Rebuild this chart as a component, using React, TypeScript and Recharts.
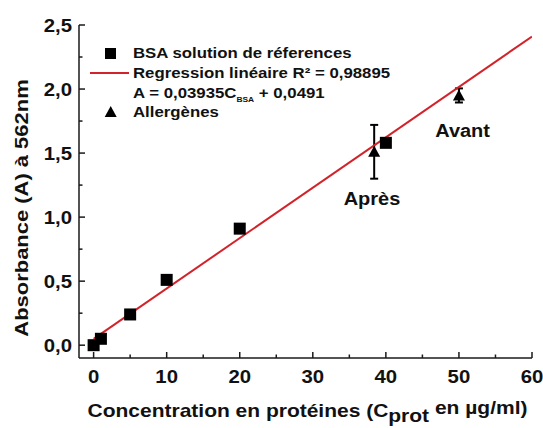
import React from "react";
import {
  ComposedChart,
  ErrorBar,
  Legend,
  ReferenceDot,
  Scatter,
  XAxis,
  YAxis,
} from "recharts";

// BSA reference solutions
const bsaConc = [0, 1, 5, 10, 20, 40];
const bsaAbs = [0.0, 0.05, 0.24, 0.51, 0.91, 1.58];

// allergen samples (with std. deviation)
const allergenConc = [38.4, 50];
const allergenAbs = [1.51, 1.95];
const allergenErr = [0.21, 0.055];
const allergenNames = ["Après", "Avant"];
const allergenTagX = [38.1, 50.5];
const allergenTagY = [1.15, 1.68];

// linear regression A = 0,03935 C + 0,0491
const regConc = [0, 60];
const regAbs = [0.0491, 2.4101];

const xTicks = [0, 5, 10, 15, 20, 25, 30, 35, 40, 45, 50, 55, 60];
const yTicks = [0, 0.25, 0.5, 0.75, 1, 1.25, 1.5, 1.75, 2, 2.25, 2.5];

const FONT = "'Liberation Sans', Arial, sans-serif";
const RED = "#d2232a";
const AXIS = "#1a1a1a";

const bsaData = bsaConc.map((x, i) => ({ x, y: bsaAbs[i] }));
const allergenData = allergenConc.map((x, i) => ({ x, y: allergenAbs[i], err: allergenErr[i] }));
const regData = regConc.map((x, i) => ({ x, y: regAbs[i] }));

const isMajorX = (v: number) => v % 10 === 0;
const isMajorY = (v: number) => Math.abs(v * 2 - Math.round(v * 2)) < 1e-6;

// the original font is a wide grotesque: stretch Liberation Sans along the text direction
const Wide = ({ x, y, sx, size, anchor = "start", rotate = 0, children }: any) => (
  <g transform={`translate(${x} ${y}) rotate(${rotate}) scale(${sx} 1)`}>
    <text x={0} y={0} textAnchor={anchor} fontFamily={FONT} fontWeight="bold" fontSize={size} fill="#111">
      {children}
    </text>
  </g>
);

const BottomTick = (p: any) => {
  const v = p.payload.value;
  const major = isMajorX(v);
  return (
    <g>
      <line x1={p.x} x2={p.x} y1={p.y} y2={p.y - (major ? 6 : 3.5)} stroke={AXIS} strokeWidth={1.5} />
      {major && (
        <Wide x={p.x} y={p.y + 25} sx={1.1} size={18.5} anchor="middle">
          {v}
        </Wide>
      )}
    </g>
  );
};

const TopTick = (p: any) => {
  const major = isMajorX(p.payload.value);
  return <line x1={p.x} x2={p.x} y1={p.y} y2={p.y + (major ? 6 : 3.5)} stroke={AXIS} strokeWidth={1.5} />;
};

const LeftTick = (p: any) => {
  const v = p.payload.value;
  const major = isMajorY(v);
  return (
    <g>
      <line x1={p.x} x2={p.x + (major ? 6 : 3.5)} y1={p.y} y2={p.y} stroke={AXIS} strokeWidth={1.5} />
      {major && (
        <Wide x={p.x - 7} y={p.y + 6.7} sx={1.1} size={18.5} anchor="end">
          {v.toFixed(1).replace(".", ",")}
        </Wide>
      )}
    </g>
  );
};

const RightTick = (p: any) => {
  const major = isMajorY(p.payload.value);
  return <line x1={p.x} x2={p.x - (major ? 6 : 3.5)} y1={p.y} y2={p.y} stroke={AXIS} strokeWidth={1.5} />;
};

const Square = (p: any) => <rect x={p.cx - 6} y={p.cy - 6} width={12} height={12} fill="#000" />;
const Triangle = (p: any) => (
  <polygon points={`${p.cx},${p.cy - 6} ${p.cx - 6},${p.cy + 5} ${p.cx + 6},${p.cy + 5}`} fill="#000" />
);

const LegendBox = () => (
  <svg width={320} height={90} style={{ overflow: "visible" }}>
    <rect x={25} y={10} width={11} height={11} fill="#000" />
    <Wide x={53} y={20} sx={1.2} size={14}>BSA solution de réferences</Wide>
    <line x1={10} x2={49} y1={35} y2={35} stroke={RED} strokeWidth={2} />
    <Wide x={53} y={40} sx={1.2} size={14}>Regression linéaire R² = 0,98895</Wide>
    <Wide x={53} y={60} sx={1.2} size={14}>
      A = 0,03935C
      <tspan fontSize={7} dy={4}>BSA</tspan>
      <tspan dy={-4}> + 0,0491</tspan>
    </Wide>
    <polygon points="30.7,68 24.7,79 36.7,79" fill="#000" />
    <Wide x={53} y={79} sx={1.2} size={14}>Allergènes</Wide>
  </svg>
);

const XLabel = (p: any) => {
  const vb = p.viewBox;
  return (
    <Wide x={vb.x + vb.width / 2 + 2} y={vb.y + 59} sx={1.2} size={17.5} anchor="middle">
      Concentration en protéines (C
      <tspan dy={5}>prot</tspan>
      <tspan dy={-8}> en µg/ml)</tspan>
    </Wide>
  );
};

const YLabel = () => (
  <Wide x={28} y={208} rotate={-90} sx={1.22} size={18} anchor="middle">
    Absorbance (A) à 562nm
  </Wide>
);

const Tag = (text: string) => (p: any) => {
  const vb = p.viewBox;
  return (
    <Wide x={vb.x} y={vb.y + 7} sx={1.08} size={18.5} anchor="middle">
      {text}
    </Wide>
  );
};

export default function App() {
  return (
    <div style={{ position: "absolute", left: 0, top: 0, width: 543, height: 428, background: "#fff" }}>
      <ComposedChart width={543} height={428} margin={{ top: 25, right: 11, bottom: 0, left: 0 }}>
        <XAxis
          xAxisId="b"
          dataKey="x"
          type="number"
          domain={[-2, 60]}
          ticks={xTicks}
          interval={0}
          allowDataOverflow
          tickSize={0}
          tickMargin={0}
          tick={<BottomTick />}
          height={70}
          stroke={AXIS}
          strokeWidth={1.5}
          label={{ content: XLabel }}
        />
        <XAxis
          xAxisId="t"
          orientation="top"
          dataKey="x"
          type="number"
          domain={[-2, 60]}
          ticks={xTicks}
          interval={0}
          allowDataOverflow
          tickSize={0}
          tickMargin={0}
          tick={<TopTick />}
          height={0}
          stroke={AXIS}
          strokeWidth={1.5}
        />
        <YAxis
          yAxisId="l"
          dataKey="y"
          type="number"
          domain={[-0.1, 2.5]}
          ticks={yTicks}
          interval={0}
          allowDataOverflow
          tickSize={0}
          tickMargin={0}
          tick={<LeftTick />}
          width={79}
          stroke={AXIS}
          strokeWidth={1.5}
          label={{ content: YLabel }}
        />
        <YAxis
          yAxisId="r"
          orientation="right"
          dataKey="y"
          type="number"
          domain={[-0.1, 2.5]}
          ticks={yTicks}
          interval={0}
          allowDataOverflow
          tickSize={0}
          tickMargin={0}
          tick={<RightTick />}
          width={0}
          stroke={AXIS}
          strokeWidth={1.5}
        />
        <Legend
          layout="horizontal"
          verticalAlign="middle"
          align="center"
          wrapperStyle={{ top: 38, left: 80, width: 320, height: 90 }}
          content={<LegendBox />}
        />
        <Scatter
          xAxisId="b"
          yAxisId="l"
          name="Regression linéaire"
          data={regData}
          line={{ stroke: RED, strokeWidth: 2 }}
          shape={() => <g />}
          isAnimationActive={false}
        />
        <Scatter
          xAxisId="b"
          yAxisId="l"
          name="BSA solution de réferences"
          data={bsaData}
          shape={<Square />}
          isAnimationActive={false}
        />
        <Scatter
          xAxisId="b"
          yAxisId="l"
          name="Allergènes"
          data={allergenData}
          shape={<Triangle />}
          isAnimationActive={false}
        >
          <ErrorBar dataKey="err" direction="y" width={4} stroke="#000" strokeWidth={2} isAnimationActive={false} />
        </Scatter>
        {allergenNames.map((name, i) => (
          <ReferenceDot
            key={name}
            xAxisId="b"
            yAxisId="l"
            x={allergenTagX[i]}
            y={allergenTagY[i]}
            r={0}
            fill="none"
            stroke="none"
            label={{ content: Tag(name) }}
          />
        ))}
      </ComposedChart>
    </div>
  );
}
